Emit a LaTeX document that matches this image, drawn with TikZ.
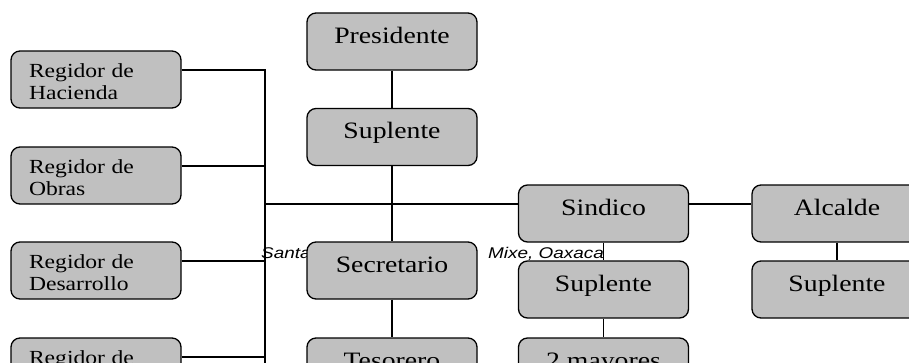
\documentclass[tikz,border=0pt]{standalone}
\usepackage{fontspec}
\setmainfont{Liberation Serif}[FakeStretch=1.18]
\newfontfamily\lugarfont{Liberation Sans}
\definecolor{cargogris}{RGB}{192,192,192}
\newcommand{\lugar}[1]{\scalebox{1.22}[1]{\lugarfont\itshape\fontsize{15.5}{17}\selectfont #1}}
\tikzset{
    caja/.style={draw, fill=cargogris, line width=1.3pt, rounded corners=9pt,
        minimum width=170pt, minimum height=57pt, inner sep=0pt},
    cargo/.style={caja, text height=30pt, text depth=27pt,
        font=\fontsize{23.5}{26}\selectfont},
    regidor/.style={caja, align=left, text width=134pt, text height=26.7pt, text depth=30.3pt,
        font=\fontsize{20}{21.7}\selectfont},
    linea/.style={line width=1.3pt},
}
\begin{document}
\begin{tikzpicture}[x=1pt, y=-1pt]
    \path[use as bounding box, clip] (0,0) rectangle (909,362);
    \node[anchor=base west, inner sep=0pt] (santa) at (261,258.5) {\lugar{Santa}};
    \node[anchor=base west, inner sep=0pt] (oaxaca) at (488,258.5) {\lugar{Mixe, Oaxaca}};
    \coordinate (lomofin) at (265,380);
    \node[cargo] (presidente) at (392,41.5) {Presidente};
    \node[cargo] (suplentep) at (392,137) {Suplente};
    \node[cargo] (secretario) at (392,270.5) {Secretario};
    \node[cargo] (tesorero) at (392,366.5) {Tesorero};
    \node[cargo] (sindico) at (603.5,213.5) {Sindico};
    \node[cargo] (suplentes) at (603.5,289.5) {Suplente};
    \node[cargo] (mayores) at (603.5,366.5) {2 mayores};
    \node[cargo] (alcalde) at (837,213.5) {Alcalde};
    \node[cargo] (suplentea) at (837,289.5) {Suplente};
    \node[regidor] (hacienda) at (96,79.5) {Regidor de\\Hacienda};
    \node[regidor] (obras) at (96,175.5) {Regidor de\\Obras};
    \node[regidor] (desarrollo) at (96,270.5) {Regidor de\\Desarrollo};
    \node[regidor] (regcuatro) at (96,366.5) {Regidor de};
    \foreach \r in {hacienda,obras,desarrollo,regcuatro}
        \draw[linea] ([yshift=9.5pt]\r.east) -| (lomofin);
    \draw[linea] ([yshift=9.5pt]sindico.west) -| (lomofin);
    \draw[linea] ([yshift=9.5pt]sindico.east) -- ([yshift=9.5pt]alcalde.west);
    \draw[linea] (presidente) -- (suplentep);
    \draw[linea] (suplentep) -- (secretario);
    \draw[linea] (secretario) -- (tesorero);
    \draw[linea] (sindico) -- (suplentes);
    \draw[linea] (suplentes) -- (mayores);
    \draw[linea] (alcalde) -- (suplentea);
\end{tikzpicture}
\end{document}
